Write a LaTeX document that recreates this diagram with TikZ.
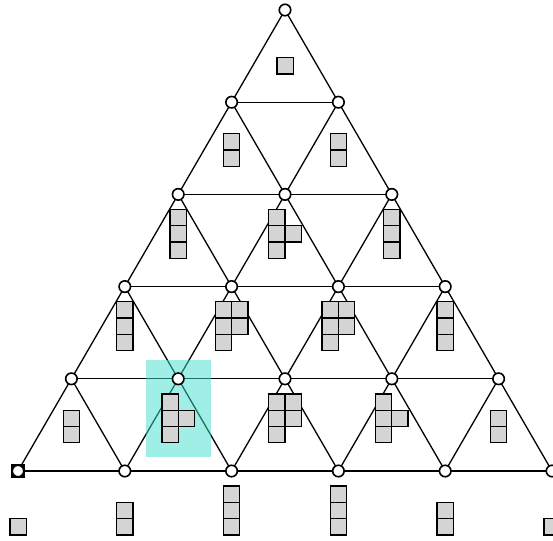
\documentclass[tikz,border=0pt]{standalone}
\pgfdeclarelayer{background}
\pgfsetlayers{background,main}
\tikzset{
  vtx/.style={circle,draw=black,fill=white,line width=1.6pt,minimum size=11.5pt,inner sep=0pt},
  sqmark/.style={rectangle,fill=black,minimum size=13.5pt,inner sep=0pt},
  edge/.style={line width=1.3pt,black},
  cell/.style={draw=black,fill=black!17,line width=1.3pt},
  hl/.style={fill={rgb,255:red,64;green,224;blue,208},fill opacity=0.5}
}
\newcommand\sz{16.3}
\newcommand\Mono[1]{\begin{scope}[shift={(#1.center)}]
  \draw[cell] (-8.15,64) rectangle ++(\sz,-\sz);\end{scope}}
\newcommand\Itwo[1]{\begin{scope}[shift={(#1.center)}]
  \draw[cell] (-8.15,64) rectangle ++(\sz,-\sz);
  \draw[cell] (-8.15,47.7) rectangle ++(\sz,-\sz);\end{scope}}
\newcommand\Ithree[1]{\begin{scope}[shift={(#1.center)}]
  \draw[cell] (-8.15,64) rectangle ++(\sz,-\sz);
  \draw[cell] (-8.15,47.7) rectangle ++(\sz,-\sz);
  \draw[cell] (-8.15,31.4) rectangle ++(\sz,-\sz);\end{scope}}
\newcommand\Tshape[1]{\begin{scope}[shift={(#1.center)}]
  \draw[cell] (-16.3,64) rectangle ++(\sz,-\sz);
  \draw[cell] (-16.3,47.7) rectangle ++(\sz,-\sz);
  \draw[cell] (-16.3,31.4) rectangle ++(\sz,-\sz);
  \draw[cell] (0,47.7) rectangle ++(\sz,-\sz);\end{scope}}
\newcommand\Pshape[1]{\begin{scope}[shift={(#1.center)}]
  \draw[cell] (-16.3,64) rectangle ++(\sz,-\sz);
  \draw[cell] (-16.3,47.7) rectangle ++(\sz,-\sz);
  \draw[cell] (0,47.7) rectangle ++(\sz,-\sz);
  \draw[cell] (-16.3,31.4) rectangle ++(\sz,-\sz);
  \draw[cell] (0,31.4) rectangle ++(\sz,-\sz);\end{scope}}
\begin{document}
\begin{tikzpicture}[x=1pt,y=-1pt]
\useasboundingbox (0,0) rectangle (553,540);
% black square marker behind bottom-left vertex
\node[sqmark] (mk) at (18.2,471) {};
% vertices
\foreach \k in {0,...,5}{
  \foreach \j in {0,...,\k}{
    \pgfmathsetmacro\xx{285+(2*\j-\k)*53.4}
    \pgfmathsetmacro\yy{10+92.2*\k}
    \node[vtx] (v-\k-\j) at (\xx,\yy) {};
  }
}
\begin{pgfonlayer}{background}
  % horizontal edges
  \foreach \k in {1,...,5}{
    \pgfmathtruncatemacro\km{\k-1}
    \foreach \j in {0,...,\km}{
      \pgfmathtruncatemacro\jp{\j+1}
      \draw[edge] (v-\k-\j.center) -- (v-\k-\jp.center);
    }
  }
  % diagonal edges
  \foreach \k in {0,...,4}{
    \pgfmathtruncatemacro\kp{\k+1}
    \foreach \j in {0,...,\k}{
      \pgfmathtruncatemacro\jp{\j+1}
      \draw[edge] (v-\k-\j.center) -- (v-\kp-\j.center);
      \draw[edge] (v-\k-\j.center) -- (v-\kp-\jp.center);
    }
  }
  % highlight
  \fill[hl] (146,360) rectangle (211,457);
\end{pgfonlayer}
% polyominoes
\Mono{v-0-0}
\Itwo{v-1-0}\Itwo{v-1-1}
\Ithree{v-2-0}\Tshape{v-2-1}\Ithree{v-2-2}
\Ithree{v-3-0}\Pshape{v-3-1}\Pshape{v-3-2}\Ithree{v-3-3}
\Itwo{v-4-0}\Tshape{v-4-1}\Pshape{v-4-2}\Tshape{v-4-3}\Itwo{v-4-4}
\Mono{v-5-0}\Itwo{v-5-1}\Ithree{v-5-2}\Ithree{v-5-3}\Itwo{v-5-4}\Mono{v-5-5}
\end{tikzpicture}
\end{document}
